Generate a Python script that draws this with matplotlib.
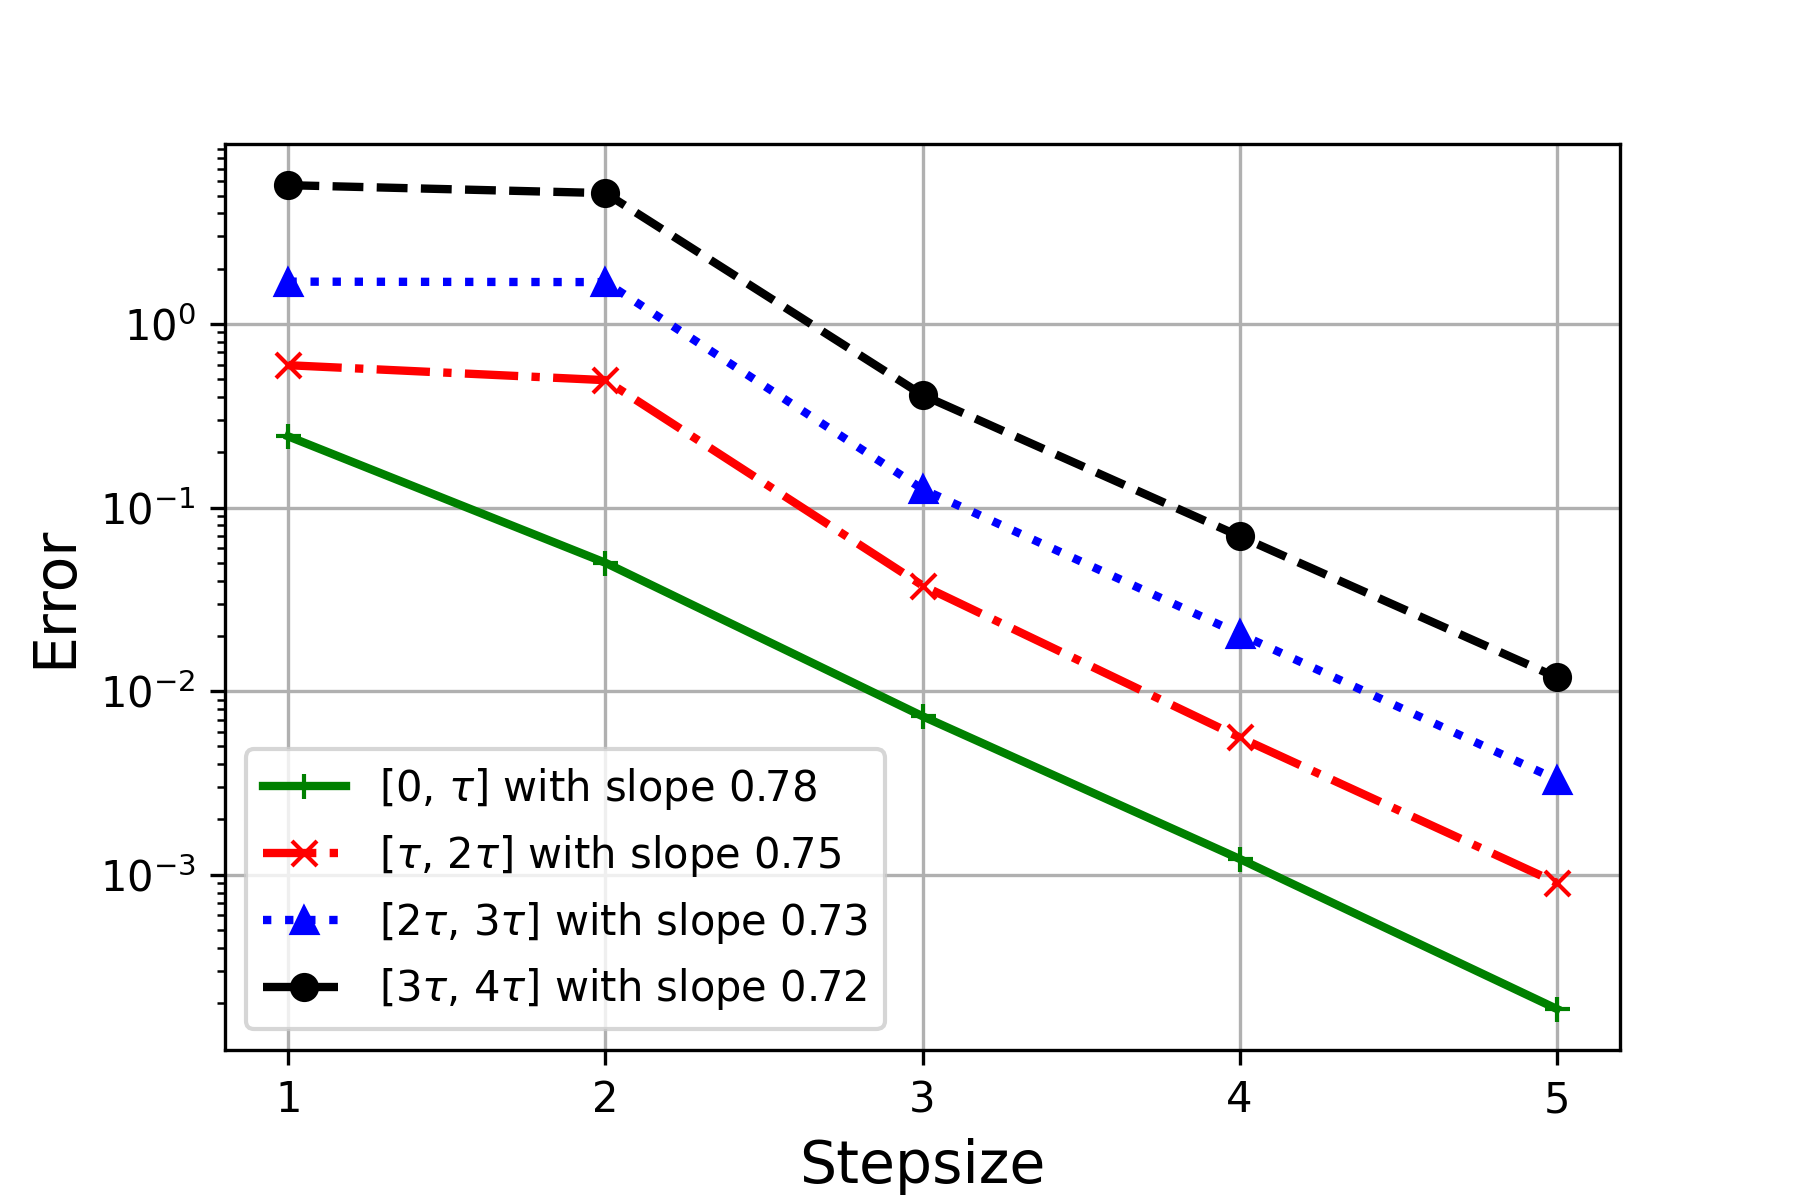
import matplotlib
matplotlib.use("Agg")
import matplotlib.pyplot as plt

# step sizes on the x axis
steps = [1, 2, 3, 4, 5]

# error per interval
err_0_tau = [0.244, 0.050, 0.0073, 0.00122, 0.000186]
err_tau_2tau = [0.596, 0.494, 0.0376, 0.0056, 0.000904]
err_2tau_3tau = [1.70, 1.69, 0.126, 0.0205, 0.0033]
err_3tau_4tau = [5.7, 5.16, 0.41, 0.0698, 0.0119]

labels = [
    r'[0, $\tau$] with slope 0.78',
    r'[$\tau$, 2$\tau$] with slope 0.75',
    r'[2$\tau$, 3$\tau$] with slope 0.73',
    r'[3$\tau$, 4$\tau$] with slope 0.72',
]

fig, ax = plt.subplots(figsize=(6, 4), dpi=300)
fig.subplots_adjust(left=0.125, right=0.9, bottom=0.125, top=0.88)

ax.semilogy(steps, err_0_tau, color='green', linestyle='-', marker='+', linewidth=2, label=labels[0])
ax.semilogy(steps, err_tau_2tau, color='red', linestyle='-.', marker='x', linewidth=2, label=labels[1])
ax.semilogy(steps, err_2tau_3tau, color='blue', linestyle=':', marker='^', linewidth=2, label=labels[2])
ax.semilogy(steps, err_3tau_4tau, color='black', linestyle='--', marker='o', linewidth=2, label=labels[3])

ax.set_xticks(steps)
ax.tick_params(labelsize=10)
ax.set_xlabel('Stepsize', fontsize=14)
ax.set_ylabel('Error', fontsize=14)
ax.grid(True)
ax.legend(loc='lower left', fontsize=10)

fig.savefig('out.png', dpi=300)
